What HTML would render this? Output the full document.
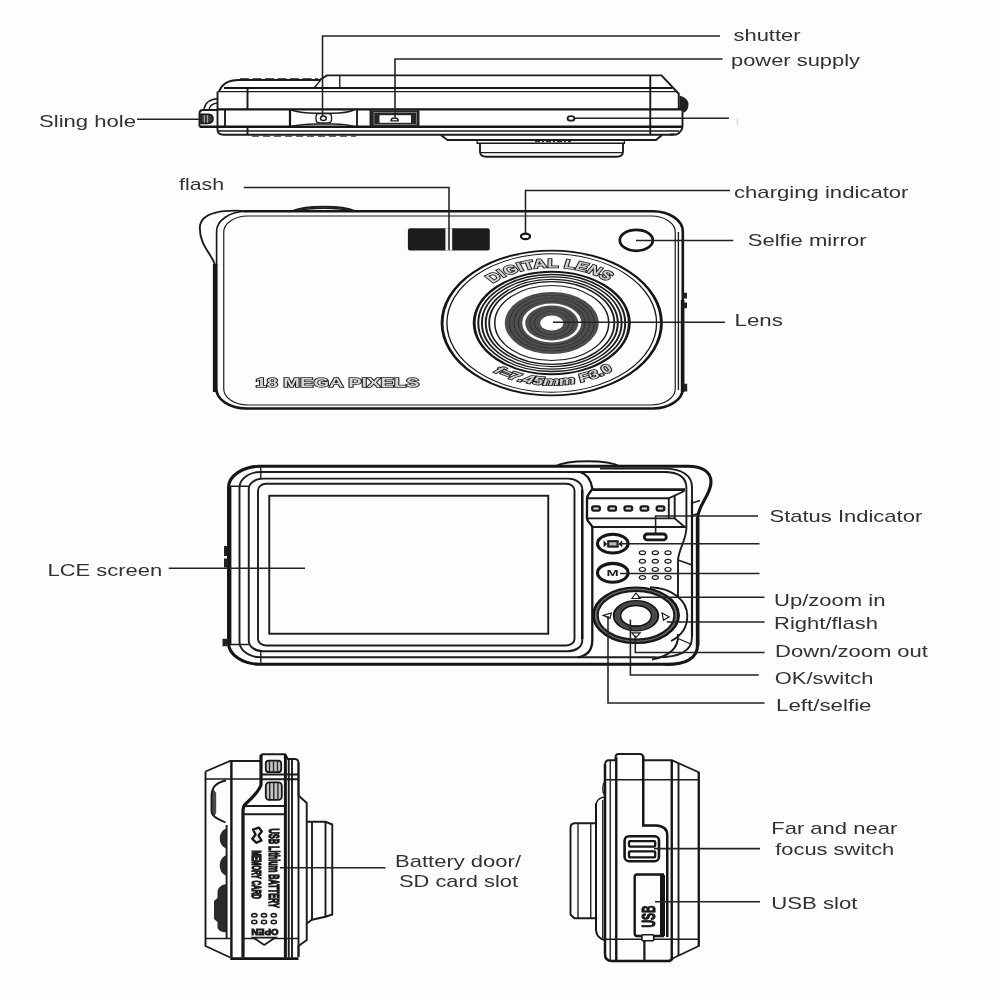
<!DOCTYPE html>
<html>
<head>
<meta charset="utf-8">
<title>Camera diagram</title>
<style>
html,body{margin:0;padding:0;background:#fdfdfd;}
body{width:1000px;height:1000px;overflow:hidden;font-family:"Liberation Sans",sans-serif;}
svg{display:block;position:absolute;left:0;top:0;}
.lb text{font-family:"Liberation Sans",sans-serif;font-size:17px;fill:#333;}
.ld path{fill:none;stroke:#222;stroke-width:1.55;}
.a{fill:none;stroke:#1c1c1c;stroke-width:1.35;}
.b{fill:none;stroke:#1c1c1c;stroke-width:1.9;}
.c{fill:none;stroke:#151515;stroke-width:2.6;}
.w{fill:#fdfdfd;}
.d{fill:#1e1e1e;stroke:none;}
</style>
</head>
<body>
<svg width="1000" height="1000" viewBox="0 0 1000 1000">
<defs><filter id="soft" x="0" y="0" width="1000" height="1000" filterUnits="userSpaceOnUse"><feGaussianBlur stdDeviation="0.45"/></filter></defs>
<rect x="0" y="0" width="1000" height="1000" fill="#fdfdfd"/>
<g filter="url(#soft)">

<g id="topview">
<!-- raised grip -->
<path class="b" d="M219,91.5C222,84 228,80 238.5,80H319.5L327,75.4H661.5L678.75,93.75V108.75H682.5V126Q682.5,131.5 676.5,134.5H670"/>
<path d="M240,79.4H318" fill="none" stroke="#1c1c1c" stroke-width="2.2" stroke-dasharray="9 3.5"/>
<path class="a" d="M314.5,87.5L320.5,80.3"/>
<path class="a" d="M339.75,75.4V87.5"/>
<!-- horizontals -->
<path d="M224,88H672.5" fill="none" stroke="#151515" stroke-width="2.1"/>
<path class="a" d="M217.5,91.6H676.5"/>
<path d="M217.5,109.3H682.5" fill="none" stroke="#151515" stroke-width="2.2"/>
<path d="M199.5,126.8H682" fill="none" stroke="#151515" stroke-width="2.4"/>
<path class="a" d="M218,131H679"/>
<path class="b" d="M217.5,127V129.5Q217.5,134.75 223.5,134.75H674"/>
<!-- verticals -->
<path class="b" d="M217.5,91.6V127"/>
<path class="b" d="M247.5,89V109.3M247.5,126.6V134.75"/>
<path class="b" d="M225,110V126.5"/>
<path d="M290,110V126.5" fill="none" stroke="#151515" stroke-width="2.2"/>
<path class="b" d="M357,110V126.5M370.5,110V126.5"/>
<path class="b" d="M650.25,75.4V134.75"/>
<path d="M252,136.1H356" stroke="#333" stroke-width="1.2" stroke-dasharray="7 4" fill="none"/>
<!-- sling piece -->
<path class="b" d="M217.5,110H203Q199.5,110 199.5,113.5V126.6"/>
<path class="a" d="M204,109.3Q205.5,99.5 217.5,98.75M209,109.3Q210.5,103.5 217.5,103"/>
<path d="M201,114.2H207.5Q213,114.2 213,118.8Q213,123.4 207.5,123.4H201Z" fill="#3a3a3a" stroke="#151515" stroke-width="1.6"/>
<path d="M204.3,115V122.8M207.6,115V122.8" stroke="#bbb" stroke-width="0.9" fill="none"/>
<!-- shutter recess -->
<path class="a" d="M291,110Q302,113.2 316,113.2H333Q346,113.2 354,110"/>
<path class="a" d="M291,126.5Q302,124 316,124H333Q346,124 354,126.5"/>
<rect x="316" y="113.6" width="15.5" height="9.2" rx="3" ry="3" fill="#fdfdfd" stroke="#1c1c1c" stroke-width="1.3"/>
<ellipse cx="323.4" cy="118.3" rx="2.9" ry="2.3" fill="#fdfdfd" stroke="#1c1c1c" stroke-width="1.5"/>
<!-- power switch -->
<rect x="371" y="110.3" width="48.5" height="16.3" fill="#262626"/>
<rect x="374" y="112.6" width="42.5" height="11.8" fill="none" stroke="#9a9a9a" stroke-width="0.7"/>
<rect x="379.5" y="115.2" width="31.5" height="7.6" fill="#fdfdfd"/>
<path d="M391,120.8A3.6,2.8 0 0 1 398.2,120.8Z" fill="#fdfdfd" stroke="#1c1c1c" stroke-width="1.3"/>
<!-- hole -->
<ellipse cx="571" cy="118.4" rx="3.4" ry="2.3" fill="#fdfdfd" stroke="#1c1c1c" stroke-width="1.8"/>
<!-- right nub -->
<path d="M679.5,95.5Q688.5,98 688.5,104.5Q688.5,111 683.5,112.8L682.5,108.75H679.5Z" fill="#222"/>
<!-- lens base -->
<path class="b" d="M440.8,135L447.5,140H656L662,135"/>
<path class="a" d="M477.2,140V143.2H624.4V140"/>
<path class="b" d="M480,143.2V151.5Q480,156.8 486.5,156.8H616.5Q623,156.8 623,151.5V143.2"/>
<path class="a" d="M481,152.6H622"/>
<path d="M535,141.6H571" stroke="#333" stroke-width="1.2" stroke-dasharray="5 2 2 2" fill="none"/>
</g>


<g id="frontview">
<!-- grip bump & shutter bump -->
<path d="M248,211.2C226,209.5 199.8,211 199.8,228C199.8,246 212,254 215,265" fill="none" stroke="#1c1c1c" stroke-width="1.9"/>
<path class="b" d="M292.5,211C306,205.3 342,205.3 355,211"/>
<path class="a" d="M297,211C309,207.3 339,207.3 351,211"/>
<!-- body -->
<rect x="216.3" y="211.3" width="466.5" height="197.2" rx="30" ry="20" fill="#fdfdfd" stroke="none"/>
<path d="M244,211.3H652.8A30,20 0 0 1 682.8,231.3V388.5A30,20 0 0 1 652.8,408.5H246.3A30,20 0 0 1 216.3,388.5V264" fill="none" stroke="#151515" stroke-width="2.6"/>
<path d="M216.6,265V231.3A30,20 0 0 1 246.3,211.3" fill="none" stroke="#151515" stroke-width="1.6"/>
<path d="M214.6,264V392" fill="none" stroke="#151515" stroke-width="3.4"/>
<path d="M682.6,300V392" fill="none" stroke="#151515" stroke-width="3.6"/>
<rect x="223.75" y="216" width="451.5" height="189" rx="24" ry="16" fill="none" stroke="#1c1c1c" stroke-width="1.2"/>
<path class="a" d="M678.4,232V390"/>
<path d="M684,292.8h3v5.6h-3zM684,302.6h3v5.6h-3zM684,383.8h3.2v7.7h-3.2z" fill="#222"/>
<!-- flash -->
<rect x="407.9" y="228.3" width="81.9" height="22.1" rx="2.2" fill="#1d1d1d"/>
<rect x="445.4" y="228.3" width="6.8" height="22.1" fill="#f4f4f4"/>
<!-- charging indicator & selfie mirror -->
<ellipse cx="525.5" cy="236.4" rx="4.5" ry="2.7" fill="#fdfdfd" stroke="#151515" stroke-width="2.3"/>
<ellipse cx="636.3" cy="240.3" rx="16.5" ry="10.5" fill="#fdfdfd" stroke="#151515" stroke-width="2.7"/>
<!-- lens -->
<g transform="translate(551.75,323) scale(1.515,1)">
<circle r="72.4" fill="none" stroke="#151515" stroke-width="1.9"/>
<circle r="69.2" fill="none" stroke="#1c1c1c" stroke-width="0.9"/>
<circle r="51.2" fill="none" stroke="#151515" stroke-width="1.9"/>
<circle r="48.5" fill="none" stroke="#1c1c1c" stroke-width="1.3"/>
<circle r="46.1" fill="none" stroke="#1c1c1c" stroke-width="1.3"/>
<circle r="43.6" fill="none" stroke="#1c1c1c" stroke-width="1.3"/>
<circle r="41.3" fill="none" stroke="#1c1c1c" stroke-width="1.2"/>
<circle r="37.6" fill="none" stroke="#1c1c1c" stroke-width="1"/>
<circle r="31" fill="#4e4e4e"/>
<circle r="28" fill="none" stroke="#303030" stroke-width="0.7"/>
<circle r="25" fill="none" stroke="#303030" stroke-width="0.7"/>
<circle r="22" fill="none" stroke="#303030" stroke-width="0.7"/>
<circle r="18.5" fill="none" stroke="#fdfdfd" stroke-width="2"/>
<circle r="14.5" fill="none" stroke="#303030" stroke-width="0.7"/>
<circle r="11.5" fill="none" stroke="#303030" stroke-width="0.7"/>
<circle r="7.6" fill="#fdfdfd"/>
<path id="arcTop" d="M-38.97,-39.66A55.6,55.6 0 0 1 40,-38.6" fill="none"/>
<path id="arcBot" d="M-38.6,48.9A62.3,62.3 0 0 0 41.7,46.3" fill="none"/>
<text font-family="Liberation Sans,sans-serif" font-weight="bold" font-size="12.5" fill="#cfcfcf" stroke="#1c1c1c" stroke-width="1.55" style="paint-order:stroke"><textPath href="#arcTop" textLength="83" lengthAdjust="spacingAndGlyphs">DIGITAL LENS</textPath></text>
<text font-family="Liberation Sans,sans-serif" font-weight="bold" font-style="italic" font-size="11.5" fill="#cfcfcf" stroke="#1c1c1c" stroke-width="1.55" style="paint-order:stroke"><textPath href="#arcBot" textLength="86" lengthAdjust="spacingAndGlyphs">f=7.45mm F3.0</textPath></text>
</g>
<!-- 18 MEGA PIXELS -->
<text x="255.5" y="387" textLength="164" lengthAdjust="spacingAndGlyphs" font-family="Liberation Sans,sans-serif" font-weight="bold" font-size="13.2" fill="#d4d4d4" stroke="#1c1c1c" stroke-width="1.5" style="paint-order:stroke">18 MEGA PIXELS</text>
</g>


<g id="backview">
<!-- top bump -->
<path class="b" d="M555,466.3C568,459.6 607,459.6 620,466.3"/>
<!-- outer body -->
<path d="M260,466.3H688C701,466.5 711,471 711,482C711,495 698.5,504 697.6,518V645C697.6,658 686,665 664,664.3H260A32,21 0 0 1 228.6,643.3V487.3A32,21 0 0 1 260,466.3Z" fill="#fdfdfd" stroke="#151515" stroke-width="3.1"/>
<path d="M697.6,518V646" fill="none" stroke="#151515" stroke-width="3.6"/>
<path d="M229.4,486V645" fill="none" stroke="#151515" stroke-width="4"/>
<!-- 2nd contour -->
<path class="b" d="M654,657.3H261A21.5,15.3 0 0 1 239.5,642V487.3A21.5,15.3 0 0 1 261,472H664C679,472 686.4,478 686.4,488V527.8C686.4,540 679,548 678,560V597"/>
<path class="b" d="M600,468.6H664C683,468.6 692,476 692,487V637C692,651 680,658 654,657.3"/>
<path d="M692,500V636" fill="none" stroke="#151515" stroke-width="2.2"/>
<!-- 3rd contour -->
<rect class="b" x="248.75" y="478.6" width="333.5" height="172.6" rx="14" ry="10.5"/>
<path d="M582.25,490V639" fill="none" stroke="#151515" stroke-width="2.4"/>
<!-- bezel -->
<rect class="b" x="258" y="483.75" width="316.5" height="161.75" rx="8" ry="6.5"/>
<!-- screen -->
<rect class="b" x="269.25" y="495.75" width="279" height="138"/>
<!-- corner seams -->
<path class="a" d="M260.8,466.3V479M260.8,651V664M230,486.2H248.8M230,644.5H248.8"/>
<!-- left nubs -->
<path d="M224,546h3.5v10h-3.5zM224,558.5h3.5v9h-3.5zM222.5,638.8h5v7.4h-5z" fill="#222"/>
<!-- control panel -->
<path d="M580,472C587,474 591,480 592.3,488.5C590.5,493 587,494.5 587,498.5V518.2C587,522 591,523.5 592.3,527V640C592.3,651 586,656 578,657.3" fill="none" stroke="#151515" stroke-width="2.3"/>
<path d="M592.3,489.6H685" fill="none" stroke="#151515" stroke-width="2.6"/>
<path class="b" d="M684.4,491L668.8,498.3H587"/>
<path class="b" d="M668.8,498.3V518M674.7,496V518.4"/>
<path class="b" d="M587,518.4H674.7L684.4,526.8"/>
<path class="b" d="M592.3,527H686"/>
<path class="b" d="M678,634C679,648 670,656 652,659.5"/>
<path class="a" d="M678,560L692,565M678,638.5L692,644.5M692,503L700,500.5M692,515.5L698,513.5"/>
<!-- LEDs -->
<g fill="#dcdcdc" stroke="#1a1a1a" stroke-width="2.3">
<rect x="592.2" y="506.3" width="7.6" height="4.4" rx="1.6"/>
<rect x="608.4" y="506.3" width="7.6" height="4.4" rx="1.6"/>
<rect x="624.5" y="506.3" width="7.6" height="4.4" rx="1.6"/>
<rect x="640.6" y="506.3" width="7.6" height="4.4" rx="1.6"/>
<rect x="656.7" y="506.3" width="7.6" height="4.4" rx="1.6"/>
</g>
<!-- status pill -->
<rect x="644.3" y="534" width="22" height="5.8" rx="2.9" fill="#fdfdfd" stroke="#151515" stroke-width="2.8"/>
<!-- video button -->
<ellipse cx="612.8" cy="543.6" rx="15.3" ry="9.4" fill="#fdfdfd" stroke="#151515" stroke-width="3.1"/>
<rect x="608.2" y="541.2" width="9.4" height="5.4" fill="#b8b8b8" stroke="#1c1c1c" stroke-width="2.1"/>
<path d="M603.6,540.3L607.2,543.9L603.6,547.5ZM622.2,540.3L618.6,543.9L622.2,547.5Z" fill="#1c1c1c"/>
<!-- M button -->
<ellipse cx="612.8" cy="572.8" rx="15.3" ry="9.4" fill="#fdfdfd" stroke="#151515" stroke-width="3.1"/>
<text x="606.5" y="576.2" textLength="12.2" lengthAdjust="spacingAndGlyphs" font-family="Liberation Sans,sans-serif" font-weight="bold" font-size="9.6" fill="#1c1c1c">M</text>
<!-- speaker dots -->
<g fill="#fdfdfd" stroke="#1c1c1c" stroke-width="1.2">
<ellipse cx="642.4" cy="552.8" rx="3.1" ry="1.9"/><ellipse cx="655.3" cy="552.8" rx="3.1" ry="1.9"/><ellipse cx="668" cy="552.8" rx="3.1" ry="1.9"/>
<ellipse cx="642.4" cy="561.2" rx="3.1" ry="1.9"/><ellipse cx="655.3" cy="561.2" rx="3.1" ry="1.9"/><ellipse cx="668" cy="561.2" rx="3.1" ry="1.9"/>
<ellipse cx="642.4" cy="569.4" rx="3.1" ry="1.9"/><ellipse cx="655.3" cy="569.4" rx="3.1" ry="1.9"/><ellipse cx="668" cy="569.4" rx="3.1" ry="1.9"/>
<ellipse cx="642.4" cy="577.5" rx="3.1" ry="1.9"/><ellipse cx="655.3" cy="577.5" rx="3.1" ry="1.9"/><ellipse cx="668" cy="577.5" rx="3.1" ry="1.9"/>
</g>
<!-- dpad -->
<path class="b" d="M650,587.3C672,588 687.3,600 687.3,616C687.3,628 681,636 671,641"/>
<ellipse cx="636" cy="615.3" rx="42.4" ry="27.2" fill="#fdfdfd" stroke="#151515" stroke-width="3.2"/>
<ellipse cx="636" cy="615.3" rx="40.2" ry="25.8" fill="none" stroke="#6a6a6a" stroke-width="1.8"/>
<ellipse cx="636" cy="615.3" rx="38.4" ry="24.4" fill="none" stroke="#1c1c1c" stroke-width="2.2"/>
<ellipse cx="636" cy="615.8" rx="22.1" ry="14.6" fill="#fdfdfd" stroke="#151515" stroke-width="2.2"/>
<ellipse cx="636" cy="615.8" rx="18.7" ry="12.2" fill="none" stroke="#464646" stroke-width="4.8"/>
<ellipse cx="636" cy="615.8" rx="15.5" ry="10.3" fill="none" stroke="#151515" stroke-width="1.7"/>
<g fill="#fdfdfd" stroke="#1c1c1c" stroke-width="1.2" stroke-linejoin="miter">
<path d="M631.8,598.5L636,592.9L640.2,598.5Z"/>
<path d="M662,613L669,616.7L663.5,620.2Z"/>
<path d="M631.8,632.8H640.2L636,637.7Z"/>
<path d="M611.3,613L603.2,615.4L610,618.4Z"/>
</g>
</g>


<g id="leftside">
<!-- lens -->
<path class="b" d="M306.75,821.75H325.5L332.25,824.5V914.5L325.5,916.75L312,919.75L306.75,923.5"/>
<path class="b" d="M312,821.75V919.75M325.5,821.75V916.75"/>
<!-- outline -->
<path class="b" d="M205.5,771.5L230.25,761H261V756Q261,754.25 263,754.25H285L288,759H295Q298.5,759.5 298.5,763V795.5L306.75,803V940L298.5,946V957"/>
<path class="b" d="M205.5,771.5V946L230.25,957.5"/>
<path d="M230.25,958.6H298.5" fill="none" stroke="#151515" stroke-width="2.6"/>
<path class="a" d="M205.5,779H261M205.5,938.5H230.5M243,938.5H298.5"/>
<path d="M231.4,761V957.5" fill="none" stroke="#151515" stroke-width="2.4"/>
<!-- door left edge -->
<path d="M261,755V785C258,793 250,800 245.5,804C243.5,806 243,808 243,811V957.5" fill="none" stroke="#151515" stroke-width="3.2"/>
<path d="M285.4,754.5V957.5" fill="none" stroke="#151515" stroke-width="3"/>
<path class="b" d="M288.75,759V957.5M292,759V957.5M298.5,763V957"/>
<path class="b" d="M261,774.5H298.5M261,779.3H298.5"/>
<path class="b" d="M245,806H285M243,814.25H285"/>
<!-- slots -->
<rect x="265.8" y="760.6" width="15.4" height="11.6" rx="3" fill="#c4c4c4" stroke="#151515" stroke-width="1.8"/>
<path d="M269.5,761V772M273.5,761V772M277.5,761V772" stroke="#2a2a2a" stroke-width="1.4" fill="none"/>
<rect x="265.8" y="782.3" width="16" height="17.6" rx="3.4" fill="#c4c4c4" stroke="#151515" stroke-width="1.8"/>
<path d="M269.7,783V799.5M273.8,783V799.5M277.9,783V799.5" stroke="#2a2a2a" stroke-width="1.4" fill="none"/>
<!-- left bumps -->
<path d="M213.5,789C211.8,792 211.5,794 211.5,797V811C211.8,813.5 212.5,815 214,816.5L216.2,813V793Z" fill="#4a4a4a"/>
<path class="b" d="M226,780.5C214,783 211.5,789 211.5,797V811C211.5,816 216.5,818.5 225.5,822.5"/>
<path class="b" d="M226.6,825V938"/>
<path d="M226.6,828.5C217.5,831 217.5,846 226.6,848.5Z" fill="#2a2a2a"/>
<path d="M226.6,855C217.5,858 217.5,873 226.6,876Z" fill="#2a2a2a"/>
<path d="M226.6,884C220,885 218,888 217.5,892V898L214,901V919L217.5,922V928Q219,932 226.6,932.5Z" fill="#2a2a2a"/>
<!-- text -->
<g font-family="Liberation Sans,sans-serif" font-weight="bold" fill="#151515" stroke="#151515" stroke-width="0.85">
<text transform="translate(269.4,828.5) rotate(90) scale(1,1.6)" font-size="9" textLength="79.5" lengthAdjust="spacingAndGlyphs">USB Lithium BATTERY</text>
<text transform="translate(252.2,850.4) rotate(90) scale(1,1.5)" font-size="8.6" textLength="48.5" lengthAdjust="spacingAndGlyphs">MEMORY CARD</text>
<text transform="translate(278.4,929.3) rotate(180) scale(1.55,1)" font-size="8.4" textLength="17.5" lengthAdjust="spacingAndGlyphs">OPEN</text>
</g>
<!-- SD icon -->
<path d="M253,829.5L259,827.6L261.8,831.5L258.5,835.5L261.5,840.5L256.5,842.8L252.3,839L255.5,834.5Z" fill="#e8e8e8" stroke="#151515" stroke-width="2.3" stroke-linejoin="round"/>
<!-- dots -->
<g fill="#fdfdfd" stroke="#1c1c1c" stroke-width="1.6">
<ellipse cx="254.3" cy="915.3" rx="2.6" ry="1.7"/><ellipse cx="264" cy="915.3" rx="2.6" ry="1.7"/><ellipse cx="273.8" cy="915.3" rx="2.6" ry="1.7"/>
<ellipse cx="254.3" cy="922" rx="2.6" ry="1.7"/><ellipse cx="264" cy="922" rx="2.6" ry="1.7"/><ellipse cx="273.8" cy="922" rx="2.6" ry="1.7"/>
</g>
<path d="M253.3,937.6H275.3L264.2,945Z" fill="#fdfdfd" stroke="#1c1c1c" stroke-width="1.8"/>
</g>


<g id="rightside">
<!-- lens -->
<path class="b" d="M596,823.25H574.5Q570.5,823.5 570.5,828V914.5L574.25,918.25H596"/>
<path class="a" d="M578,823.5V918M590.75,823.25V918.25"/>
<path class="a" d="M605,797C600,797.5 597.5,799 596.5,803"/>
<path class="a" d="M605,781C602,785 602,792 605,796"/>
<path d="M596,803V930C596.5,936 599,939 605,940" fill="none" stroke="#151515" stroke-width="2"/>
<path class="a" d="M602.75,800V938"/>
<!-- outline -->
<path class="b" d="M605,765Q605,760.25 609,760.25H615.5M643.25,760.25H671.75L698.75,772.25V946L672.5,958.5"/>
<path class="b" d="M615.5,760.25V757.5Q615.5,754 619,754H639.5Q643.25,754 643.25,757.5"/>
<path d="M605,764V954Q605,961 612,961H668Q671,961 672.5,958.5" fill="none" stroke="#151515" stroke-width="2.5"/>
<path d="M698.75,772.25V946" fill="none" stroke="#151515" stroke-width="2"/>
<path class="a" d="M610.25,760.25V960.5"/>
<path d="M616.25,757V960.5" fill="none" stroke="#151515" stroke-width="2.4"/>
<path d="M671.75,760.25V959" fill="none" stroke="#151515" stroke-width="2.4"/>
<path class="b" d="M678.5,763V956"/>
<path class="a" d="M605,779.75H698.75M605,939.25H698.75"/>
<!-- door edge -->
<path d="M643.25,756V825.5H656C663.5,826 667.25,829 667.25,835V937" fill="none" stroke="#151515" stroke-width="2.5"/>
<path d="M644.4,940.5V961" fill="none" stroke="#151515" stroke-width="2.2"/>
<!-- focus switch -->
<rect x="624.6" y="836.2" width="34.4" height="25" rx="4.5" fill="#fdfdfd" stroke="#151515" stroke-width="2.6"/>
<rect x="629" y="841.2" width="26.2" height="5.4" rx="1" fill="#fdfdfd" stroke="#151515" stroke-width="2.3"/>
<rect x="629" y="851.4" width="26.2" height="6" rx="1" fill="#fdfdfd" stroke="#151515" stroke-width="2.3"/>
<!-- usb slot -->
<path d="M664,874.5H637Q634.7,874.5 634.7,877V933.5Q634.7,936 637,936H664" fill="none" stroke="#151515" stroke-width="2.4"/>
<path d="M662.5,875V936" fill="none" stroke="#151515" stroke-width="5"/>
<rect x="641.9" y="934.8" width="11.8" height="6" rx="1" fill="#fdfdfd" stroke="#151515" stroke-width="1.6"/>
<text transform="translate(655.2,927.4) rotate(-90) scale(1,1.62)" font-family="Liberation Sans,sans-serif" font-weight="bold" font-size="11.6" textLength="22" lengthAdjust="spacingAndGlyphs" fill="#1a1a1a" stroke="#1a1a1a" stroke-width="0.7">USB</text>
</g>


<path d="M737.2,118.5V125" stroke="#c8c8c8" stroke-width="1" fill="none"/>
<!-- leaders -->
<g class="ld">
<path d="M322.5,117V36H720"/>
<path d="M395,117V59H722.5"/>
<path d="M574,118.2H729"/>
<path d="M137,119.25H201"/>
<path d="M243.75,187.5H449V250"/>
<path d="M730,190.4H525.5V233"/>
<path d="M636,240.5H733.25"/>
<path d="M553,322.3H725"/>
<path d="M168.75,568.2H305"/>
<path d="M655.6,533V516H758"/>
<path d="M622,543.75H759.5"/>
<path d="M620,573.4H759.5"/>
<path d="M638,597.3H764.5"/>
<path d="M666.8,622H764.5"/>
<path d="M635.3,635.6V652.4H764.5"/>
<path d="M630.4,619.5V675H758.75"/>
<path d="M608,616V703H764.5"/>
<path d="M280,867.7H385.5"/>
<path d="M654,848.6H760"/>
<path d="M655,901.8H760"/>
</g>

<!-- labels -->
<g class="lb">
<text x="733.5" y="40.75" textLength="67" lengthAdjust="spacingAndGlyphs">shutter</text>
<text x="731" y="65.5" textLength="129" lengthAdjust="spacingAndGlyphs">power supply</text>
<text x="39" y="126.75" textLength="97" lengthAdjust="spacingAndGlyphs">Sling hole</text>
<text x="179" y="189.5" textLength="45" lengthAdjust="spacingAndGlyphs">flash</text>
<text x="734" y="197.5" textLength="174.5" lengthAdjust="spacingAndGlyphs">charging indicator</text>
<text x="747.75" y="245.5" textLength="118.75" lengthAdjust="spacingAndGlyphs">Selfie mirror</text>
<text x="734.5" y="325.75" textLength="48.5" lengthAdjust="spacingAndGlyphs">Lens</text>
<text x="769.5" y="521.75" textLength="152.75" lengthAdjust="spacingAndGlyphs">Status Indicator</text>
<text x="774" y="605.75" textLength="111.5" lengthAdjust="spacingAndGlyphs">Up/zoom in</text>
<text x="774" y="629.25" textLength="104" lengthAdjust="spacingAndGlyphs">Right/flash</text>
<text x="775" y="657" textLength="153" lengthAdjust="spacingAndGlyphs">Down/zoom out</text>
<text x="774.75" y="684.25" textLength="98.75" lengthAdjust="spacingAndGlyphs">OK/switch</text>
<text x="776" y="711.25" textLength="95.5" lengthAdjust="spacingAndGlyphs">Left/selfie</text>
<text x="47.5" y="575.5" textLength="114.75" lengthAdjust="spacingAndGlyphs">LCE screen</text>
<text x="395" y="866.75" textLength="126" lengthAdjust="spacingAndGlyphs">Battery door/</text>
<text x="399" y="887" textLength="119" lengthAdjust="spacingAndGlyphs">SD card slot</text>
<text x="771.25" y="834.25" textLength="126" lengthAdjust="spacingAndGlyphs">Far and near</text>
<text x="775.25" y="854.5" textLength="119" lengthAdjust="spacingAndGlyphs">focus switch</text>
<text x="771.25" y="908.75" textLength="86.25" lengthAdjust="spacingAndGlyphs">USB slot</text>
</g>
</g>
</svg>
</body>
</html>
